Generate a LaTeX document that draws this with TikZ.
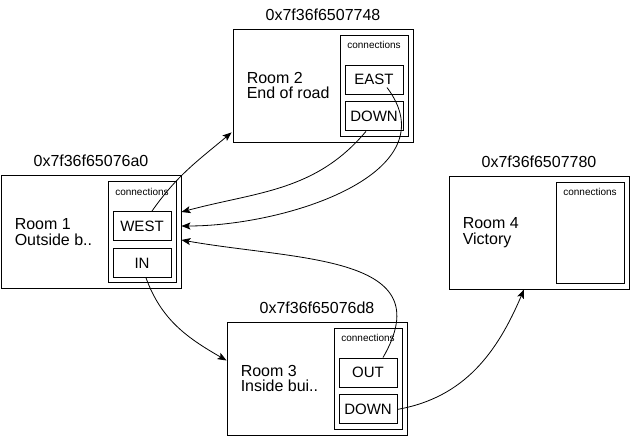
\documentclass[tikz,border=0pt]{standalone}
\usepackage{fontspec}
\setmainfont{Liberation Sans}
\usetikzlibrary{arrows.meta,positioning}

\begin{document}
\begin{tikzpicture}[
    x=1pt, y=1pt,
    room/.style={draw, line width=0.9pt, minimum width=180pt, minimum height=113pt, inner sep=0pt},
    conns/.style={draw, line width=0.9pt, minimum width=68pt, minimum height=101pt, inner sep=0pt},
    slot/.style={draw, line width=0.9pt, minimum width=58pt, minimum height=29pt, inner sep=0pt, font=\fontsize{15}{16}\selectfont},
    addr/.style={inner sep=0pt, font=\fontsize{16}{18}\selectfont},
    desc/.style={align=left, inner sep=0pt, font=\fontsize{16}{15.5}\selectfont},
    tag/.style={inner sep=0pt, font=\fontsize{10}{12}\selectfont},
    arrow/.style={-{Stealth[length=9pt,width=7pt,inset=2pt]}, line width=0.8pt},
    node distance=7pt
]

\useasboundingbox (0,0) rectangle (631,437);

% Rooms
\node[room] (room1) at (91,205) {};
\node[room] (room2) at (323,351.5) {};
\node[room] (room3) at (317,58.5) {};
\node[room] (room4) at (539,204.5) {};

% Addresses
\node[addr, above=8pt of room1] (addr1) {0x7f36f65076a0};
\node[addr, above=8pt of room2] (addr2) {0x7f36f6507748};
\node[addr, above=8pt of room3] (addr3) {0x7f36f65076d8};
\node[addr, above=8pt of room4] (addr4) {0x7f36f6507780};

% Descriptions
\node[desc, right=14pt of room1.west] (desc1) {Room 1\\Outside b..};
\node[desc, right=14pt of room2.west] (desc2) {Room 2\\End of road};
\node[desc, right=14pt of room3.west] (desc3) {Room 3\\Inside bui..};
\node[desc, right=14pt of room4.west] (desc4) {Room 4\\Victory};

% Connection lists
\node[conns, anchor=north east] (conn1) at ([xshift=-5pt,yshift=-6pt]room1.north east) {};
\node[conns, anchor=north east] (conn2) at ([xshift=-5pt,yshift=-6pt]room2.north east) {};
\node[conns, anchor=north east] (conn3) at ([xshift=-5pt,yshift=-6pt]room3.north east) {};
\node[conns, anchor=north east] (conn4) at ([xshift=-5pt,yshift=-6pt]room4.north east) {};
\node[tag, below=7pt of conn1.north] (tag1) {connections};
\node[tag, below=7pt of conn2.north] (tag2) {connections};
\node[tag, below=7pt of conn3.north] (tag3) {connections};
\node[tag, below=7pt of conn4.north] (tag4) {connections};

% Exits
\node[slot, below=30pt of conn1.north] (west1) {WEST};
\node[slot, below=of west1] (in1) {IN};
\node[slot, below=30pt of conn2.north] (east2) {EAST};
\node[slot, below=of east2] (down2) {DOWN};
\node[slot, below=30pt of conn3.north] (out3) {OUT};
\node[slot, below=of out3] (down3) {DOWN};

% Links
\draw[arrow] ([xshift=10pt]west1.north) to[out=55, in=220] ([shift={(-1pt,10pt)}]room2.south west);
\draw[arrow] ([xshift=-8pt]down2.south) to[out=-130, in=15] ([yshift=20pt]room1.east);
\draw[arrow] ([shift={(13pt,-8pt)}]east2.center) to[out=-53, in=0, looseness=1.1] ([yshift=6pt]room1.east);
\draw[arrow] ([xshift=15pt]out3.north) to[out=60, in=-10, looseness=1.3] ([yshift=-8pt]room1.east);
\draw[arrow] ([xshift=4pt]in1.south) to[out=-70, in=150] ([yshift=18pt]room3.west);
\draw[arrow] (down3.east) to[out=10, in=-113] ([xshift=-15pt]room4.south);

\end{tikzpicture}
\end{document}
